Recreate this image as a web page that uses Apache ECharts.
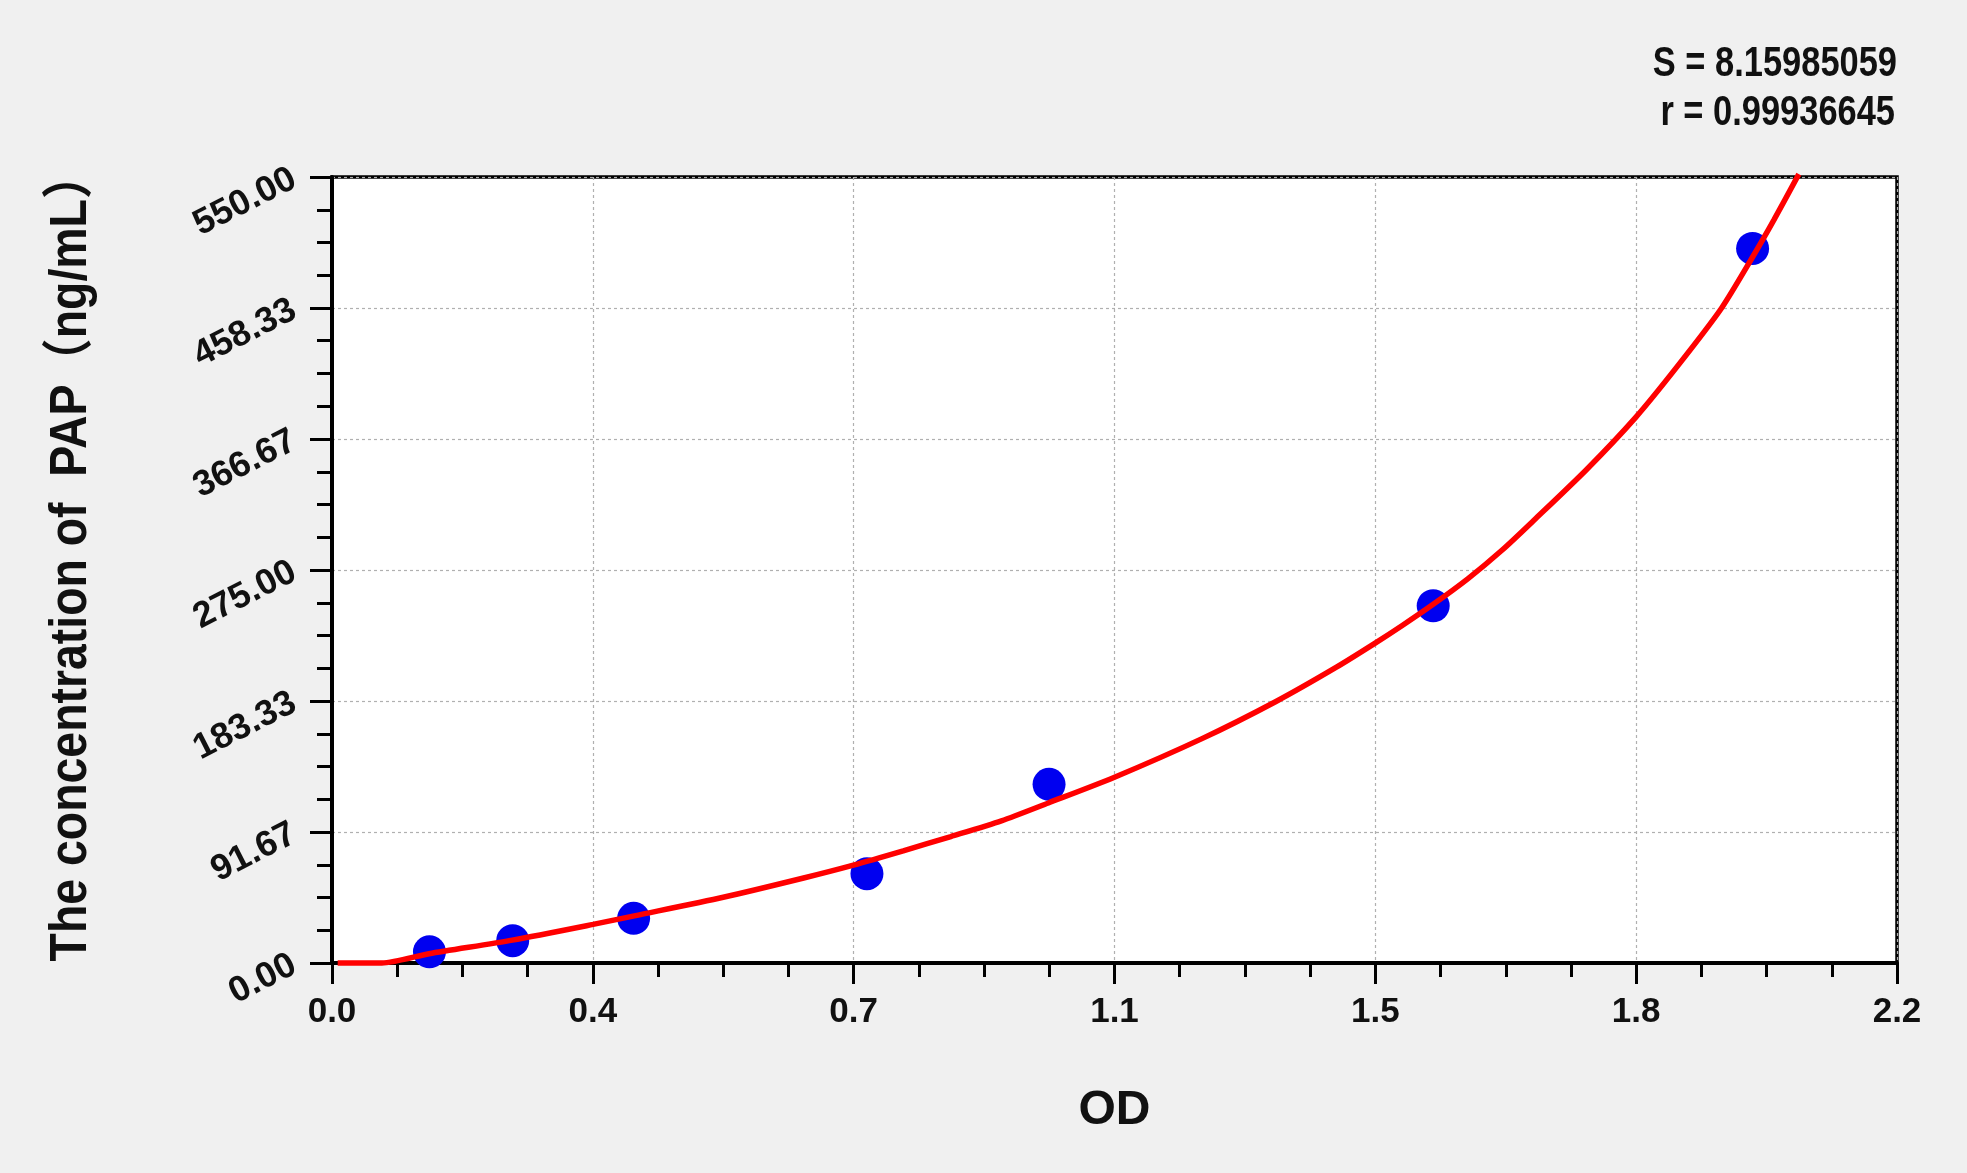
<html>
<head>
    <meta charset="utf-8">
    <script src="https://cdn.jsdelivr.net/npm/echarts@6/dist/echarts.min.js"></script>
    <style>
        html, body {
            margin: 0;
            padding: 0;
            background: #f0f0f0;
        }
        #main {
            width: 1967px;
            height: 1173px;
        }
    </style>
</head>
<body>
    <div id="main"></div>
    <script>
        // standard points (OD, concentration)
        var stdOD = [0.137, 0.254, 0.424, 0.752, 1.008, 1.548, 1.997];
        var stdConc = [7.81, 15.63, 31.25, 62.5, 125, 250, 500];

        // fitted curve
        var fitOD = [0.008, 0.07, 0.1365, 0.2535, 0.367, 0.425, 0.55, 0.663, 0.733, 0.803, 0.87, 0.941, 1.007, 1.1, 1.223, 1.327, 1.412, 1.467, 1.504, 1.548, 1.597, 1.645, 1.69, 1.763, 1.833, 1.892, 1.953, 1.997, 2.027, 2.062];
        var fitConc = [0, 0, 6.5, 16, 27, 33, 46, 59.5, 68.5, 78.5, 88.5, 99.5, 112, 130, 157, 183, 207, 224, 236, 251, 269, 289, 310, 345, 382, 418, 458, 494, 520, 552];

        var statS = 'S = 8.15985059';
        var statR = 'r = 0.99936645';
        var yTitle = 'The concentration of  PAP（ng/mL）';

        var fontMain = "'Liberation Sans', Arial, 'Noto Sans CJK SC', sans-serif";

        var stdData = stdOD.map(function (x, i) { return [x, stdConc[i]]; });
        var fitData = fitOD.map(function (x, i) { return [x, fitConc[i]]; });

        var myChart = echarts.init(document.getElementById('main'));
        var option = {
            backgroundColor: '#f0f0f0',
            animation: false,
            grid: {
                left: 332,
                right: 70,
                top: 177,
                bottom: 210,
                show: true,
                backgroundColor: '#fff',
                borderColor: '#000',
                borderWidth: 3.5
            },
            graphic: [
                {
                    type: 'text',
                    x: 1897,
                    y: 64,
                    scaleX: 0.82,
                    style: {
                        text: statS,
                        font: 'bold 42px ' + fontMain,
                        fill: '#111',
                        align: 'right',
                        verticalAlign: 'middle'
                    }
                },
                {
                    type: 'text',
                    x: 1895,
                    y: 113,
                    scaleX: 0.82,
                    style: {
                        text: statR,
                        font: 'bold 42px ' + fontMain,
                        fill: '#111',
                        align: 'right',
                        verticalAlign: 'middle'
                    }
                },
                {
                    type: 'text',
                    x: 72,
                    y: 557,
                    rotation: Math.PI / 2,
                    scaleX: 0.91,
                    style: {
                        text: yTitle,
                        font: 'bold 51px ' + fontMain,
                        fill: '#111',
                        align: 'center',
                        verticalAlign: 'middle'
                    }
                }
            ],
            xAxis: {
                type: 'value',
                min: 0,
                max: 2.2,
                interval: 2.2 / 6,
                name: 'OD',
                nameLocation: 'middle',
                nameGap: 124,
                nameTextStyle: {
                    fontFamily: fontMain,
                    fontWeight: 'bold',
                    fontSize: 48,
                    color: '#111'
                },
                axisLine: { lineStyle: { color: '#000', width: 4 } },
                axisTick: { length: 21, lineStyle: { color: '#000', width: 3 } },
                minorTick: { show: true, splitNumber: 4, length: 14, lineStyle: { color: '#000', width: 3 } },
                axisLabel: {
                    margin: 32,
                    fontFamily: fontMain,
                    fontWeight: 'bold',
                    fontSize: 35,
                    color: '#111',
                    formatter: function (v) { return v.toFixed(1); }
                },
                splitLine: { show: true, lineStyle: { color: '#b0b0b0', width: 1.2, type: [3, 3] } }
            },
            yAxis: {
                type: 'value',
                min: 0,
                max: 550,
                interval: 550 / 6,
                axisLine: { lineStyle: { color: '#000', width: 4 } },
                axisTick: { length: 22, lineStyle: { color: '#000', width: 3 } },
                minorTick: { show: true, splitNumber: 4, length: 15, lineStyle: { color: '#000', width: 3 } },
                axisLabel: {
                    margin: 38,
                    rotate: 27,
                    fontFamily: fontMain,
                    fontWeight: 'bold',
                    fontSize: 36,
                    color: '#111',
                    formatter: function (v) { return v.toFixed(2); }
                },
                splitLine: { show: true, lineStyle: { color: '#b0b0b0', width: 1.2, type: [3, 3] } }
            },
            series: [
                {
                    name: 'standard',
                    type: 'scatter',
                    data: stdData,
                    symbolSize: 33,
                    itemStyle: { color: '#0000f0', opacity: 1 },
                    z: 2
                },
                {
                    name: 'fit',
                    type: 'line',
                    data: fitData,
                    smooth: 0.25,
                    showSymbol: false,
                    clip: false,
                    lineStyle: { color: '#ff0000', width: 5.5 },
                    z: 3
                }
            ]
        };

        myChart.setOption(option);
        window.onresize = myChart.resize;
    </script>
</body>
</html>
